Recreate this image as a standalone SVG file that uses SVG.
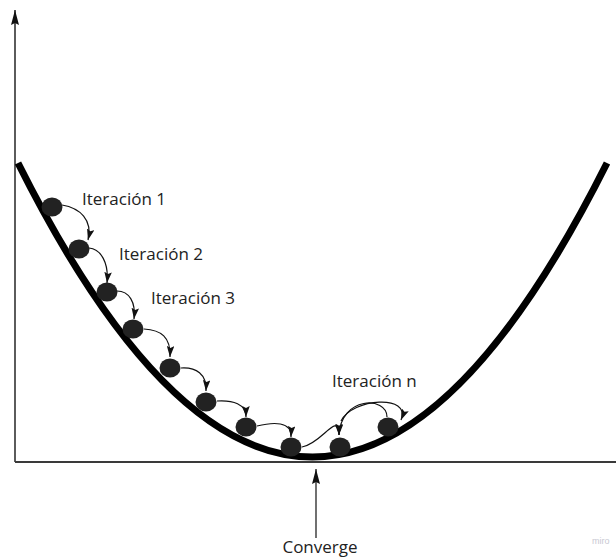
<svg xmlns="http://www.w3.org/2000/svg" width="616" height="558" viewBox="0 0 616 558">
<defs>
<style>
.lbl{font-family:"Open Sans","Noto Sans","DejaVu Sans",sans-serif;font-size:17px;fill:#222}
.ball{fill:#222}
.conn{fill:none;stroke:#111;stroke-width:1.2}
.axis{fill:none;stroke:#333;stroke-width:1.6}
</style>
<marker id="ah" viewBox="0 0 11 7.5" refX="11" refY="3.75" markerWidth="11" markerHeight="7.5" markerUnits="userSpaceOnUse" orient="auto">
<path d="M0,0 L11,3.75 L0,7.5 L2,3.75 z" fill="#111"/>
</marker>
<marker id="axh" viewBox="0 0 15 8" refX="15" refY="4" markerWidth="15" markerHeight="8" markerUnits="userSpaceOnUse" orient="auto">
<path d="M0,0 L15,4 L0,8 L2,4 z" fill="#111"/>
</marker>
</defs>
<rect width="616" height="558" fill="#fff"/>
<g id="axes">
<line class="axis" x1="15" y1="462" x2="15" y2="10" marker-end="url(#axh)"/>
<line x1="15" y1="462" x2="616" y2="462" stroke="#3a3a3a" stroke-width="2"/>
</g>
<g id="curve">
<path d="M18,163 Q312.5,751 607,163" fill="none" stroke="#000" stroke-width="7"/>
</g>
<g id="connectors">
<path class="conn" d="M62,205 C80,208 93,220 88,240" marker-end="url(#ah)"/>
<path class="conn" d="M89,248 C101,249 109,263 107,283" marker-end="url(#ah)"/>
<path class="conn" d="M117,291 C129,291 136,302 134,319" marker-end="url(#ah)"/>
<path class="conn" d="M144,329 C161,330 171,337 170,357" marker-end="url(#ah)"/>
<path class="conn" d="M181,368 C196,367 207,374 206,391" marker-end="url(#ah)"/>
<path class="conn" d="M217,401 C233,400 246,404 246,417" marker-end="url(#ah)"/>
<path class="conn" d="M257,426 C273,422 292,421 291,437" marker-end="url(#ah)"/>
<path class="conn" d="M302,447 C322,444 338,410 339,435" marker-end="url(#ah)"/>
<path class="conn" d="M341,421 C352,398 412,394 401,420" marker-end="url(#ah)"/>
<path class="conn" d="M387,417 C387,396 341,396 339,435" marker-end="url(#ah)"/>
<line class="conn" x1="316" y1="538" x2="316" y2="469" marker-end="url(#axh)"/>
</g>
<g id="ball1"><ellipse class="ball" cx="52" cy="207" rx="10.5" ry="9.5"/></g>
<g id="ball2"><ellipse class="ball" cx="79" cy="249" rx="10.5" ry="9.5"/></g>
<g id="ball3"><ellipse class="ball" cx="107" cy="292" rx="10.5" ry="9.5"/></g>
<g id="ball4"><ellipse class="ball" cx="133" cy="329" rx="10.5" ry="9.5"/></g>
<g id="ball5"><ellipse class="ball" cx="170" cy="368" rx="10.5" ry="9.5"/></g>
<g id="ball6"><ellipse class="ball" cx="206" cy="402" rx="10.5" ry="9.5"/></g>
<g id="ball7"><ellipse class="ball" cx="246" cy="427" rx="10.5" ry="9.5"/></g>
<g id="ball8"><ellipse class="ball" cx="291" cy="447" rx="10.5" ry="9.5"/></g>
<g id="ball9"><ellipse class="ball" cx="340" cy="447" rx="10.5" ry="9.5"/></g>
<g id="ball10"><ellipse class="ball" cx="388" cy="427" rx="10.5" ry="9.5"/></g>
<g id="labels">
<text class="lbl" x="82" y="205">Iteración 1</text>
<text class="lbl" x="119" y="260">Iteración 2</text>
<text class="lbl" x="151" y="304">Iteración 3</text>
<text class="lbl" x="332" y="387">Iteración n</text>
<text class="lbl" x="320" y="553" text-anchor="middle" font-size="16">Converge</text>
<text x="592" y="544" font-family="Liberation Sans, sans-serif" font-size="9" fill="#c8c8d2">miro</text>
</g>
</svg>
